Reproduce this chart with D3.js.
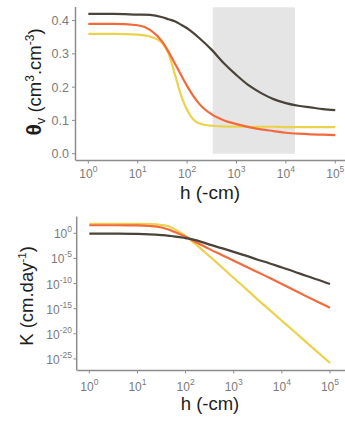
<!DOCTYPE html>
<html><head><meta charset="utf-8">
<script src="https://cdn.jsdelivr.net/npm/d3@7"></script>
<style>
html,body{margin:0;padding:0;background:#fff;}
svg{display:block;font-family:"Liberation Sans",Arial,sans-serif;}
</style></head>
<body><svg id="c" width="345" height="421"></svg>
<script>
// pressure head h (-cm)
const hValues = [1, 3.16, 10, 17.8, 31.6, 42.2, 56.2, 75, 100, 133, 178, 316, 562, 1000, 1778, 3162, 5623, 10000, 17783, 31623, 56234, 100000];
// water retention θv (cm3.cm-3)
const thetaDark   = [0.420,0.420,0.418,0.417,0.410,0.404,0.398,0.388,0.377,0.363,0.347,0.312,0.271,0.236,0.205,0.182,0.164,0.152,0.144,0.139,0.134,0.131];
const thetaOrange = [0.390,0.390,0.386,0.372,0.336,0.306,0.272,0.237,0.203,0.174,0.149,0.118,0.100,0.089,0.080,0.073,0.068,0.063,0.060,0.058,0.057,0.056];
const thetaYellow = [0.360,0.360,0.358,0.352,0.332,0.300,0.240,0.176,0.131,0.103,0.091,0.084,0.082,0.081,0.081,0.081,0.081,0.080,0.080,0.080,0.080,0.080];
// hydraulic conductivity, log10 K (cm.day-1)
const logKDark   = [-0.05,-0.07,-0.12,-0.20,-0.35,-0.45,-0.60,-0.75,-0.95,-1.15,-1.45,-2.25,-2.95,-3.7,-4.45,-5.25,-6.0,-6.8,-7.6,-8.45,-9.25,-10.1];
const logKOrange = [1.6,1.6,1.57,1.45,1.15,0.8,0.35,-0.15,-0.7,-1.3,-1.95,-3.15,-4.3,-5.45,-6.6,-7.75,-8.9,-10.1,-11.3,-12.5,-13.65,-14.8];
const logKYellow = [1.9,1.9,1.88,1.82,1.65,1.45,0.95,0.2,-0.5,-1.5,-2.5,-4.6,-6.7,-8.9,-11.0,-13.2,-15.3,-17.4,-19.5,-21.6,-23.7,-25.8];
// shaded range (field capacity to wilting point)
const shadeRange = [330, 15300];
const xTickExp = [0,1,2,3,4,5];
const yTicksTheta = [0,0.1,0.2,0.3,0.4];
const yTickExpK = [0,-5,-10,-15,-20,-25];
const seriesColors = ["#4a4339", "#f26a3c", "#ecd24c"];

const svg = d3.select("#c");
const axisCol = "#8c8c8c", tickTextCol = "#7a7a7a";

function xAxisTicks(g, x, yLine, yText) {
  g.append("line").attr("x1", x.range()[0]).attr("x2", 345).attr("y1", yLine).attr("y2", yLine)
    .attr("stroke", axisCol).attr("stroke-width", 1.5);
  xTickExp.forEach(e => {
    const px = x(Math.pow(10, e));
    g.append("line").attr("x1", px).attr("x2", px).attr("y1", yLine).attr("y2", yLine + 3)
      .attr("stroke", axisCol).attr("stroke-width", 1);
    const t = g.append("text").attr("x", px).attr("y", yText).attr("text-anchor", "middle")
      .attr("fill", tickTextCol).attr("font-size", 12);
    t.append("tspan").text("10");
    t.append("tspan").attr("dy", -6).attr("font-size", 8.5).text(e);
  });
}

// ---------- Top panel ----------
const x1 = d3.scaleLog().domain([Math.pow(10, -0.25), Math.pow(10, 5.25)]).range([76, 347.6]);
const y1 = d3.scaleLinear().domain([-0.019, 0.44]).range([160, 7.3]);
const g1 = svg.append("g");
g1.append("rect").attr("x", x1(shadeRange[0])).attr("width", x1(shadeRange[1]) - x1(shadeRange[0]))
  .attr("y", y1(0.44)).attr("height", y1(0) - y1(0.44)).attr("fill", "#e5e5e5");
const line1 = d3.line().x((d, i) => x1(hValues[i])).y(d => y1(d)).curve(d3.curveMonotoneX);
[thetaDark, thetaOrange, thetaYellow].slice().reverse().forEach((s, k) => {
  g1.append("path").attr("d", line1(s)).attr("fill", "none")
    .attr("stroke", seriesColors[2 - k]).attr("stroke-width", 2.2);
});
g1.append("line").attr("x1", 75.5).attr("x2", 75.5).attr("y1", 7).attr("y2", 160.5)
  .attr("stroke", axisCol).attr("stroke-width", 1.5);
yTicksTheta.forEach(v => {
  const py = y1(v);
  g1.append("line").attr("x1", 72).attr("x2", 75).attr("y1", py).attr("y2", py).attr("stroke", axisCol);
  g1.append("text").attr("x", 69).attr("y", py + 4.5).attr("text-anchor", "end")
    .attr("fill", tickTextCol).attr("font-size", 12.5).text(d3.format(".1f")(v));
});
xAxisTicks(g1, x1, 160.5, 178);
g1.append("text").attr("x", 210).attr("y", 199).attr("text-anchor", "middle")
  .attr("fill", "#1e1e1e").attr("font-size", 19).text("h (-cm)");
const yl1 = g1.append("text").attr("transform", "translate(41,82) rotate(-90)")
  .attr("text-anchor", "middle").attr("fill", "#1e1e1e").attr("font-size", 18.5);
yl1.append("tspan").attr("font-size", 21).attr("font-weight", "bold").text("θ");
yl1.append("tspan").attr("dy", 4).attr("font-size", 13).text("v");
yl1.append("tspan").attr("dy", -4).text(" (cm");
yl1.append("tspan").attr("dy", -7).attr("font-size", 12).text("3");
yl1.append("tspan").attr("dy", 7).text(".cm");
yl1.append("tspan").attr("dy", -7).attr("font-size", 12).text("-3");
yl1.append("tspan").attr("dy", 7).text(")");

// ---------- Bottom panel ----------
const x2 = d3.scaleLog().domain([Math.pow(10, -0.25), Math.pow(10, 5.25)]).range([77.3, 342]);
const y2 = d3.scaleLog().domain([Math.pow(10, -27.2), Math.pow(10, 3.3)]).range([370, 216.7]);
const g2 = svg.append("g");
const line2 = d3.line().x((d, i) => x2(hValues[i])).y(d => y2(Math.pow(10, d))).curve(d3.curveMonotoneX);
[logKDark, logKOrange, logKYellow].slice().reverse().forEach((s, k) => {
  g2.append("path").attr("d", line2(s)).attr("fill", "none")
    .attr("stroke", seriesColors[2 - k]).attr("stroke-width", 2.2);
});
g2.append("line").attr("x1", 76.7).attr("x2", 76.7).attr("y1", 216.5).attr("y2", 370.5)
  .attr("stroke", axisCol).attr("stroke-width", 1.5);
yTickExpK.forEach(e => {
  const py = y2(Math.pow(10, e));
  g2.append("line").attr("x1", 73.5).attr("x2", 76.5).attr("y1", py).attr("y2", py).attr("stroke", axisCol);
  const t = g2.append("text").attr("x", 72).attr("y", py + 5).attr("text-anchor", "end")
    .attr("fill", tickTextCol).attr("font-size", 12);
  t.append("tspan").text("10");
  t.append("tspan").attr("dy", -6).attr("font-size", 8.5).text(e);
});
xAxisTicks(g2, x2, 370.5, 390.5);
g2.append("text").attr("x", 210).attr("y", 410).attr("text-anchor", "middle")
  .attr("fill", "#1e1e1e").attr("font-size", 18.5).text("h (-cm)");
const yl2 = g2.append("text").attr("transform", "translate(33,296) rotate(-90)")
  .attr("text-anchor", "middle").attr("fill", "#1e1e1e").attr("font-size", 18.5);
yl2.append("tspan").text("K (cm.day");
yl2.append("tspan").attr("dy", -7).attr("font-size", 11.5).text("-1");
yl2.append("tspan").attr("dy", 7).text(")");
</script>
</body></html>
